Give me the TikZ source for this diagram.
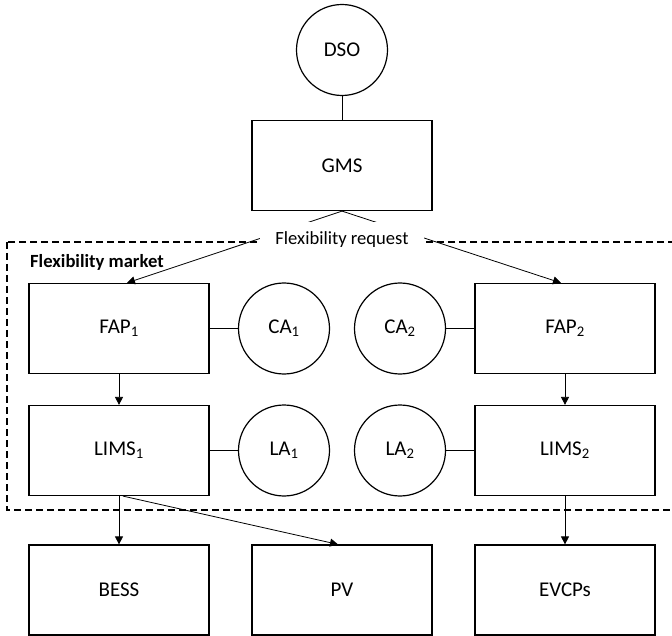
\documentclass[tikz,border=0pt]{standalone}
\usepackage{fontspec}
\setmainfont{Carlito}
\usetikzlibrary{arrows.meta}
\begin{document}
\begin{tikzpicture}[x=1pt,y=-1pt,
  box/.style={draw, line width=1.2pt, minimum width=180pt, minimum height=90pt, inner sep=0pt, font=\fontsize{21}{25}\selectfont},
  agent/.style={draw, circle, line width=1.2pt, minimum size=91pt, inner sep=0pt, font=\fontsize{21}{25}\selectfont},
  link/.style={line width=0.8pt},
  arr/.style={line width=0.8pt, -{Triangle[length=8pt,width=8pt]}},
  region/.style={line width=1.1pt, dash pattern=on 7pt off 4pt},
  smalltext/.style={font=\fontsize{18.6}{22}\selectfont},
]
\useasboundingbox (0,0) rectangle (672,636);
\clip (0,0) rectangle (672,636);

% market region
\draw[region] (7,242) rectangle (700,510);
\node[smalltext, font=\fontsize{18.6}{22}\selectfont\bfseries, anchor=west, inner sep=0pt] (mk) at (30,262) {Flexibility market};

% nodes
\node[agent] (dso) at (342,50) {DSO};
\node[box] (gms) at (342,165.5) {GMS};
\node[box] (fap1) at (119,328.5) {FAP\textsubscript{1}};
\node[agent] (ca1) at (284,328.5) {CA\textsubscript{1}};
\node[agent] (ca2) at (400,328.5) {CA\textsubscript{2}};
\node[box] (fap2) at (565,328.5) {FAP\textsubscript{2}};
\node[box] (lims1) at (119,450.5) {LIMS\textsubscript{1}};
\node[agent] (la1) at (284,450.5) {LA\textsubscript{1}};
\node[agent] (la2) at (400,450.5) {LA\textsubscript{2}};
\node[box] (lims2) at (565,450.5) {LIMS\textsubscript{2}};
\node[box] (bess) at (119,590) {BESS};
\node[box] (pv) at (342,590) {PV};
\node[box] (evcp) at (565,590) {EVCPs};

% connectors
\draw[link] (dso) -- (gms);
\draw[link] (fap1) -- (ca1);
\draw[link] (ca2) -- (fap2);
\draw[link] (lims1) -- (la1);
\draw[link] (la2) -- (lims2);
\draw[arr] (gms.south) -- ([xshift=8pt]fap1.north);
\draw[arr] (gms.south) -- ([xshift=-4pt]fap2.north);
\draw[arr] (fap1) -- (lims1);
\draw[arr] (fap2) -- (lims2);
\draw[arr] (lims1) -- (bess);
\draw[arr] ([xshift=4pt]lims1.south) -- ([xshift=-4pt]pv.north);
\draw[arr] (lims2) -- (evcp);

% request label on top
\node[smalltext, fill=white, minimum width=164pt, minimum height=36pt, inner sep=0pt] (req) at (342,240) {Flexibility request};
\end{tikzpicture}
\end{document}
